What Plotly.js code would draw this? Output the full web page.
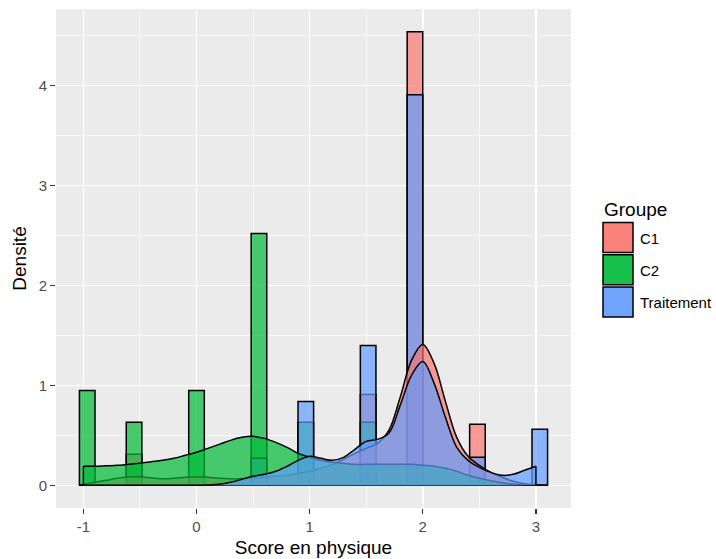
<!DOCTYPE html>
<html><head><meta charset="utf-8">
<script src="https://cdn.plot.ly/plotly-3.0.1.min.js"></script>
<style>html,body{margin:0;padding:0;background:#fff}#chart{width:716px;height:559px}</style>
</head><body><div id="chart"></div>
<script>
const groups = ["C1", "C2", "Traitement"];
const groupColors = ["#F8766D", "#00BA38", "#619CFF"];

const binCenters = [-0.966, -0.828, -0.690, -0.552, -0.414, -0.276, -0.138, 0.000, 0.138, 0.276,
  0.414, 0.552, 0.690, 0.828, 0.966, 1.103, 1.241, 1.379, 1.517, 1.655,
  1.793, 1.931, 2.069, 2.207, 2.345, 2.483, 2.621, 2.759, 2.897, 3.034];
const binWidth = 0.1379;

const histC1 = [0, 0, 0, 0.31, 0, 0, 0, 0, 0, 0,
  0, 0, 0, 0, 0, 0, 0, 0, 0.91, 0,
  0, 4.54, 0, 0, 0, 0.61, 0, 0, 0, 0];
const histC2 = [0.95, 0, 0, 0.63, 0, 0, 0, 0.95, 0, 0,
  0, 2.52, 0, 0, 0.63, 0, 0, 0, 0.63, 0,
  0, 0, 0, 0, 0, 0, 0, 0, 0, 0];
const histTraitement = [0, 0, 0, 0, 0, 0, 0, 0, 0, 0,
  0, 0.27, 0, 0, 0.84, 0, 0, 0, 1.40, 0,
  0, 3.91, 0, 0, 0, 0.28, 0, 0, 0, 0.56];

const densX = [-1.0, -0.9, -0.8, -0.7, -0.6, -0.5, -0.4, -0.3, -0.2, -0.1,
  0.0, 0.1, 0.2, 0.3, 0.4, 0.5, 0.6, 0.7, 0.8, 0.9,
  1.0, 1.1, 1.2, 1.3, 1.4, 1.5, 1.6, 1.7, 1.8, 1.9,
  2.0, 2.1, 2.2, 2.3, 2.4, 2.5, 2.6, 2.7, 2.8, 2.9,
  3.0];
const densC1 = [0.01, 0.03, 0.05, 0.07, 0.085, 0.085, 0.075, 0.065, 0.07, 0.08,
  0.085, 0.08, 0.07, 0.065, 0.065, 0.07, 0.08, 0.09, 0.10, 0.12,
  0.14, 0.17, 0.21, 0.26, 0.32, 0.37, 0.42, 0.55, 0.88, 1.25,
  1.41, 1.22, 0.84, 0.48, 0.29, 0.20, 0.13, 0.08, 0.04, 0.015,
  0.005];
const densC2 = [0.19, 0.19, 0.195, 0.20, 0.21, 0.22, 0.235, 0.25, 0.27, 0.30,
  0.33, 0.37, 0.41, 0.45, 0.48, 0.49, 0.47, 0.43, 0.38, 0.32,
  0.28, 0.25, 0.23, 0.22, 0.21, 0.21, 0.21, 0.21, 0.21, 0.21,
  0.20, 0.19, 0.17, 0.14, 0.10, 0.07, 0.045, 0.025, 0.01, 0.003,
  0.0];
const densTraitement = [0, 0, 0, 0, 0, 0, 0, 0, 0, 0,
  0, 0.003, 0.01, 0.03, 0.06, 0.09, 0.11, 0.14, 0.19, 0.25,
  0.29, 0.27, 0.25, 0.28, 0.36, 0.44, 0.46, 0.52, 0.80, 1.10,
  1.24, 1.02, 0.68, 0.38, 0.25, 0.18, 0.13, 0.10, 0.11, 0.15,
  0.19];

const histData = [histC1, histC2, histTraitement];
const densData = [densC1, densC2, densTraitement];
const ALPHA = 0.7;
const LW = 1.5;

function rgba(hex, a) {
  const r = parseInt(hex.slice(1, 3), 16), g = parseInt(hex.slice(3, 5), 16), b = parseInt(hex.slice(5, 7), 16);
  return `rgba(${r},${g},${b},${a})`;
}

const traces = [];
groups.forEach((g, i) => {
  traces.push({
    type: "bar", x: binCenters, y: histData[i], width: binWidth, name: g,
    marker: {color: rgba(groupColors[i], ALPHA), line: {color: "#000", width: LW}},
    hoverinfo: "skip", showlegend: false
  });
});
// baseline of the histogram (zero-height bins)
traces.push({
  type: "scatter", mode: "lines",
  x: [binCenters[0] - binWidth / 2, binCenters[binCenters.length - 1] + binWidth / 2], y: [0, 0],
  line: {color: "#000", width: LW}, hoverinfo: "skip", showlegend: false
});
groups.forEach((g, i) => {
  const d = densData[i];
  traces.push({
    type: "scatter", mode: "lines", x: densX, y: d, fill: "tozeroy",
    fillcolor: rgba(groupColors[i], ALPHA),
    line: {color: "#000", width: LW, shape: "spline", smoothing: 1},
    hoverinfo: "skip", showlegend: false
  });
  const n = densX.length - 1;
  traces.push({
    type: "scatter", mode: "lines", x: [densX[0], densX[0], null, densX[n], densX[n]],
    y: [0, d[0], null, d[n], 0], line: {color: "#000", width: LW},
    hoverinfo: "skip", showlegend: false
  });
});

// manual ggplot-style legend
const L = 56, R = 571, T = 9, B = 508;
const px = v => (v - L) / (R - L);
const py = v => (B - v) / (B - T);
const shapes = [];
const annotations = [{
  xref: "paper", yref: "paper", x: px(602), y: py(210), xanchor: "left", yanchor: "middle",
  text: "Groupe", showarrow: false, font: {size: 19, color: "#000"}
}];
groups.forEach((g, i) => {
  const top = 222.5 + i * 32.2;
  shapes.push({
    type: "rect", xref: "paper", yref: "paper",
    x0: px(603), x1: px(633), y0: py(top + 30), y1: py(top),
    fillcolor: rgba(groupColors[i], 1 - (1 - ALPHA) * (1 - ALPHA)),
    line: {color: "#000", width: LW}
  });
  annotations.push({
    xref: "paper", yref: "paper", x: px(638), y: py(top + 15.5), xanchor: "left", yanchor: "middle",
    text: g, showarrow: false, font: {size: 15, color: "#000"}
  });
});

const axisCommon = {
  showgrid: true, gridcolor: "#FFFFFF", gridwidth: 1.5, zeroline: false, showline: false,
  ticks: "outside", ticklen: 5, tickwidth: 1.3, tickcolor: "#333333",
  tickfont: {size: 15, color: "#4D4D4D"}, automargin: false
};

const layout = {
  width: 716, height: 559,
  margin: {l: L, r: 716 - R, t: T, b: 559 - B, pad: 0},
  paper_bgcolor: "#FFFFFF", plot_bgcolor: "#EBEBEB",
  font: {family: "Liberation Sans, Arial, sans-serif", color: "#000"},
  barmode: "overlay", showlegend: false,
  xaxis: Object.assign({}, axisCommon, {
    range: [-1.242, 3.310], tickmode: "array", tickvals: [-1, 0, 1, 2, 3], ticktext: ["-1", "0", "1", "2", "3"],
    minor: {tickmode: "array", tickvals: [-0.5, 0.5, 1.5, 2.5], showgrid: true, gridcolor: "#FFFFFF", gridwidth: 0.7, ticks: ""},
    title: {text: "Score en physique", font: {size: 19, color: "#000"}, standoff: 6}
  }),
  yaxis: Object.assign({}, axisCommon, {
    range: [-0.227, 4.767], tickmode: "array", tickvals: [0, 1, 2, 3, 4], ticktext: ["0", "1", "2", "3", "4"],
    minor: {tickmode: "array", tickvals: [0.5, 1.5, 2.5, 3.5, 4.5], showgrid: true, gridcolor: "#FFFFFF", gridwidth: 0.7, ticks: ""},
    title: {text: "Densité", font: {size: 19, color: "#000"}, standoff: 7}
  }),
  shapes: shapes, annotations: annotations
};

Plotly.newPlot("chart", traces, layout, {staticPlot: true, displayModeBar: false});
</script></body></html>
